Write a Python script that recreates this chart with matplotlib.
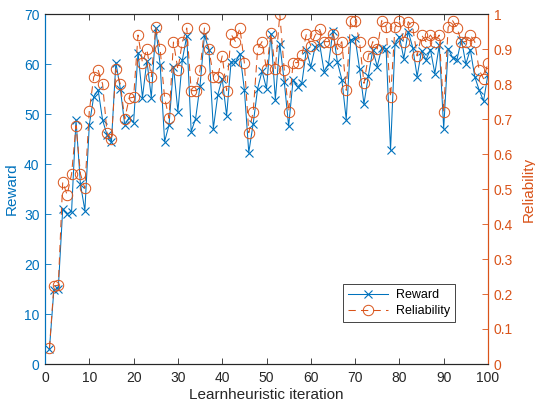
import matplotlib
matplotlib.use("Agg")
import matplotlib.pyplot as plt
import numpy as np

plt.rcParams['font.family'] = ['Liberation Sans', 'DejaVu Sans']

iterations = list(range(1, 101))
reward = [3, 14.8, 15.1, 31, 30, 30.5, 48.8, 36, 30.7, 47.8,
          53.5, 54.8, 48.8, 45.8, 44.5, 60.3, 55.1, 47.8, 49.3, 48.3,
          62.3, 53.3, 60.7, 53.3, 67.2, 59.8, 44.5, 47.8, 59.5, 50.5,
          60.8, 65.6, 46.5, 49.1, 55.7, 65.8, 62.8, 47.1, 53.8, 57.1,
          49.7, 60.4, 60.4, 62.1, 54.9, 42.3, 48.1, 55.1, 58.6, 55.1,
          66.1, 52.9, 64.1, 56.5, 47.6, 56.8, 55.4, 56.3, 62.8, 59.4,
          63.5, 64, 58.5, 60, 66.6, 60.4, 56.9, 48.9, 64.8, 65.2,
          59.1, 52, 57.7, 62.8, 59.5, 63.2, 63, 42.8, 64, 65.5,
          61.1, 66.5, 63.3, 57.5, 62.7, 60.8, 62.9, 58.1, 63.8, 47.1,
          63.1, 61.3, 60.9, 64.9, 60, 62.9, 57.5, 54.8, 52.6, 58]
reliability = [0.045, 0.223, 0.225, 0.52, 0.483, 0.543, 0.681, 0.543, 0.502, 0.723,
               0.82, 0.84, 0.80, 0.661, 0.642, 0.842, 0.80, 0.70, 0.76, 0.762,
               0.94, 0.861, 0.899, 0.821, 0.962, 0.899, 0.76, 0.702, 0.92, 0.841,
               0.92, 0.96, 0.781, 0.781, 0.84, 0.96, 0.90, 0.821, 0.821, 0.88,
               0.781, 0.942, 0.921, 0.96, 0.861, 0.661, 0.721, 0.90, 0.921, 0.842,
               0.945, 0.842, 1.0, 0.841, 0.721, 0.861, 0.861, 0.883, 0.942, 0.91,
               0.94, 0.956, 0.921, 0.921, 0.944, 0.899, 0.921, 0.782, 0.981, 0.981,
               0.921, 0.802, 0.881, 0.921, 0.90, 0.981, 0.963, 0.762, 0.962, 0.98,
               0.921, 0.978, 0.962, 0.88, 0.94, 0.921, 0.94, 0.921, 0.94, 0.721,
               0.962, 0.981, 0.96, 0.921, 0.921, 0.94, 0.921, 0.84, 0.815, 0.86]

x_ticks = list(range(0, 101, 10))
reward_ticks = list(range(0, 71, 10))
rel_ticks = [round(v * 0.1, 1) for v in range(0, 11)]
rel_tick_labels = ['0', '0.1', '0.2', '0.3', '0.4', '0.5', '0.6', '0.7', '0.8', '0.9', '1']

blue = '#0072BD'
orange = '#D95319'
gray = '#262626'

fig = plt.figure(figsize=(5.35, 4.08), dpi=100)
ax1 = fig.add_axes([45/535, 1 - 364/408, (488-45)/535, (364-14)/408])
ax2 = ax1.twinx()

l1, = ax1.plot(iterations, reward, color=blue, lw=0.75, marker='x',
               markersize=5.5, markeredgewidth=0.8, label='Reward', zorder=3)
l2, = ax2.plot(iterations, reliability, color=orange, lw=0.75, ls=(0, (7, 5)),
               marker='o', markersize=7.5, markerfacecolor='none',
               markeredgewidth=0.7, label='Reliability')

ax1.set_xlim(0, 100)
ax1.set_ylim(0, 70)
ax2.set_ylim(0, 1)
ax1.set_xticks(x_ticks)
ax1.set_yticks(reward_ticks)
ax2.set_yticks(rel_ticks)
ax2.set_yticklabels(rel_tick_labels)

for ax in (ax1, ax2):
    for s in ('top', 'bottom'):
        ax.spines[s].set_color(gray)
        ax.spines[s].set_linewidth(0.8)
    ax.spines['left'].set_color(blue)
    ax.spines['right'].set_color(orange)
    ax.spines['left'].set_linewidth(0.8)
    ax.spines['right'].set_linewidth(0.8)

ax1.tick_params(axis='x', direction='in', top=True, length=4, width=0.6,
                color=gray, labelcolor=gray, labelsize=10, pad=5)
ax1.tick_params(axis='y', direction='in', length=4, width=0.6,
                color=blue, labelcolor=blue, labelsize=10, pad=4)
ax2.tick_params(axis='y', direction='in', length=4, width=0.6,
                color=orange, labelcolor=orange, labelsize=10, pad=4)

ax1.set_xlabel('Learnheuristic iteration', fontsize=11, color=gray, labelpad=2)
ax1.set_ylabel('Reward', fontsize=11, color=blue, labelpad=4)
ax2.set_ylabel('Reliability', fontsize=11, color=orange, labelpad=6)

leg = ax2.legend(handles=[l1, l2], loc='lower right',
                 bbox_to_anchor=((455-45)/443, (364-322)/350),
                 fontsize=9, frameon=True, fancybox=False, framealpha=1,
                 edgecolor=gray, handlelength=3.2, borderpad=0.4,
                 labelspacing=0.3, handletextpad=0.6, borderaxespad=0)
leg.get_frame().set_linewidth(0.6)

fig.savefig('out.png', dpi=100)
